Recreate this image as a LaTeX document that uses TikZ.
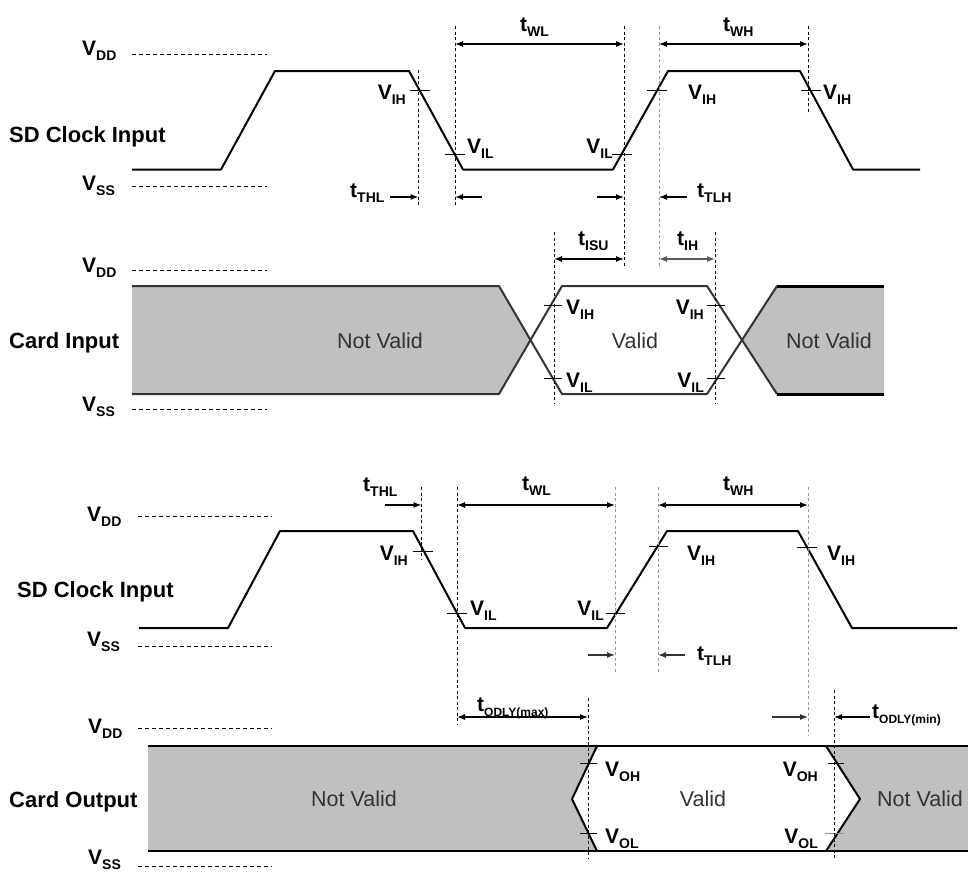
\documentclass[tikz,border=0pt]{standalone}
\usepackage{fontspec}
\setmainfont{Liberation Sans}
\usetikzlibrary{arrows.meta}
\newcommand\sigl[2]{#1\raisebox{-5pt}{\fontsize{14}{14}\selectfont #2}}
\begin{document}
\begin{tikzpicture}[x=1pt,y=-1pt,
  wave/.style={line width=2pt, line join=round},
  guide/.style={line width=0.9pt, dash pattern=on 3pt off 2.5pt},
  gguide/.style={guide, draw=black!40},
  lvl/.style={line width=0.9pt, dash pattern=on 4pt off 3pt},
  tickm/.style={line width=0.9pt},
  dim/.style={line width=1.2pt, {Latex[length=8pt,width=6pt]}-{Latex[length=8pt,width=6pt]}},
  arr/.style={line width=1.2pt, -{Latex[length=8pt,width=6pt]}},
  lab/.style={inner sep=0pt, font=\fontsize{21}{21}\selectfont\bfseries},
  rowname/.style={inner sep=0pt, font=\fontsize{22}{22}\selectfont\bfseries},
  txt/.style={inner sep=0pt, font=\fontsize{21.5}{21.5}\selectfont, text=black!80},
]
\definecolor{band}{RGB}{192,192,192}
\useasboundingbox (0,0) rectangle (968,871);

% ================= Panel 1: SD Clock Input =================
\node[lab, anchor=base west] (p1vdd) at (82,55) {\sigl{V}{DD}};
\node[lab, anchor=base west] (p1vss) at (82,190) {\sigl{V}{SS}};
\node[rowname, anchor=base west] (p1name) at (9,142) {SD Clock Input};
\draw[lvl] (132,54) -- (267,54);
\draw[lvl] (132,186) -- (267,186);
\draw[wave] (132,169.5) -- (221,169.5) -- (275,71) -- (409,71) -- (463,169.5)
  -- (613,169.5) -- (668,71) -- (800,71) -- (853,169.5) -- (920,169.5);
% ticks
\draw[tickm] (410,90.7) -- (430,90.7);
\draw[tickm] (445,154) -- (465,154);
\draw[tickm] (612,154) -- (632,154);
\draw[tickm] (647,90.7) -- (667,90.7);
\draw[tickm] (801,90.7) -- (821,90.7);
% guides
\draw[guide] (418.5,70) -- (418.5,205);
\draw[guide] (455,26) -- (455,205);
\draw[guide] (624,26) -- (624,268);
\draw[gguide] (659,26) -- (659,268);
\draw[guide] (808,26) -- (808,113);
% labels
\node[lab, anchor=base east] (p1vih1) at (406,99) {\sigl{V}{IH}};
\node[lab, anchor=base west] (p1vil1) at (467,153) {\sigl{V}{IL}};
\node[lab, anchor=base east] (p1vil2) at (613,153) {\sigl{V}{IL}};
\node[lab, anchor=base west] (p1vih2) at (688,99) {\sigl{V}{IH}};
\node[lab, anchor=base west] (p1vih3) at (823,99) {\sigl{V}{IH}};
\node[lab, anchor=base west] (p1twl) at (520,31) {\sigl{t}{WL}};
\node[lab, anchor=base west] (p1twh) at (723,31) {\sigl{t}{WH}};
\node[lab, anchor=base west] (p1tthl) at (350,197) {\sigl{t}{THL}};
\node[lab, anchor=base west] (p1ttlh) at (697,197) {\sigl{t}{TLH}};
% dimension arrows
\draw[dim] (455,44) -- (624,44);
\draw[dim] (659,44) -- (808,44);
\draw[arr] (390,197) -- (418.5,197);
\draw[arr] (482,197) -- (455,197);
\draw[arr] (597,197) -- (624,197);
\draw[arr] (687,197) -- (659,197);

% ================= Panel 2: Card Input =================
\node[lab, anchor=base west] (p2vdd) at (82,272) {\sigl{V}{DD}};
\node[lab, anchor=base west] (p2vss) at (82,411) {\sigl{V}{SS}};
\node[rowname, anchor=base west] (p2name) at (9,348) {Card Input};
\draw[lvl] (132,270) -- (267,270);
\draw[lvl] (132,409) -- (267,409);
\fill[band] (132,286) -- (499,286) -- (531,340) -- (499,394) -- (132,394) -- cycle;
\fill[band] (742,340) -- (777,286) -- (884,286) -- (884,394) -- (777,394) -- cycle;
\draw[wave, draw=black!80] (132,286) -- (499,286) -- (562,394) -- (707,394) -- (777,286);
\draw[wave, draw=black!80] (132,394) -- (499,394) -- (562,286) -- (707,286) -- (777,394);
\draw[line width=3pt] (777,286) -- (884,286);
\draw[line width=3pt] (777,394) -- (884,394);
\node[txt] (p2nv1) at (380,341) {Not Valid};
\node[txt] (p2v) at (635,341) {Valid};
\node[txt] (p2nv2) at (829,341) {Not Valid};
% ticks
\draw[tickm] (544,305) -- (562,305);
\draw[tickm] (544,378) -- (562,378);
\draw[tickm] (707,305) -- (725,305);
\draw[tickm] (707,378) -- (725,378);
% guides
\draw[guide] (554,232) -- (554,403);
\draw[guide] (715,232) -- (715,403);
% labels
\node[lab, anchor=base west] (p2vih1) at (566,314) {\sigl{V}{IH}};
\node[lab, anchor=base west] (p2vil1) at (566,387) {\sigl{V}{IL}};
\node[lab, anchor=base east] (p2vih2) at (704,314) {\sigl{V}{IH}};
\node[lab, anchor=base east] (p2vil2) at (704,387) {\sigl{V}{IL}};
\node[lab, anchor=base west] (p2tisu) at (578,245) {\sigl{t}{ISU}};
\node[lab, anchor=base west] (p2tih) at (677,245) {\sigl{t}{IH}};
\draw[dim] (554,259) -- (624,259);
\draw[dim, draw=black!65] (659,259) -- (715,259);

% ================= Panel 3: SD Clock Input =================
\node[lab, anchor=base west] (p3vdd) at (87,521) {\sigl{V}{DD}};
\node[lab, anchor=base west] (p3vss) at (87,646) {\sigl{V}{SS}};
\node[rowname, anchor=base west] (p3name) at (17,597) {SD Clock Input};
\draw[lvl] (138,516) -- (272,516);
\draw[lvl] (138,646) -- (272,646);
\draw[wave] (139,628) -- (228,628) -- (280,531) -- (413,531) -- (465,628)
  -- (607,628) -- (667,531) -- (798,531) -- (852,628) -- (957,628);
% ticks
\draw[tickm] (413,551) -- (433,551);
\draw[tickm] (447,613) -- (467,613);
\draw[tickm] (606,613) -- (625,613);
\draw[tickm] (649,546) -- (668,546);
\draw[tickm] (797,547) -- (817,547);
% guides
\draw[guide] (421.5,487) -- (421.5,560);
\draw[guide] (457,487) -- (457,725);
\draw[gguide] (615,487) -- (615,673);
\draw[gguide] (658,487) -- (658,673);
\draw[gguide] (808,487) -- (808,735);
% labels
\node[lab, anchor=base west] (p3tthl) at (363,491) {\sigl{t}{THL}};
\node[lab, anchor=base west] (p3twl) at (522,490) {\sigl{t}{WL}};
\node[lab, anchor=base west] (p3twh) at (723,490) {\sigl{t}{WH}};
\node[lab, anchor=base east] (p3vih1) at (408,560) {\sigl{V}{IH}};
\node[lab, anchor=base west] (p3vil1) at (470,615) {\sigl{V}{IL}};
\node[lab, anchor=base east] (p3vil2) at (604,615) {\sigl{V}{IL}};
\node[lab, anchor=base west] (p3vih2) at (687,560) {\sigl{V}{IH}};
\node[lab, anchor=base west] (p3vih3) at (827,560) {\sigl{V}{IH}};
\node[lab, anchor=base west] (p3ttlh) at (697,660) {\sigl{t}{TLH}};
\draw[arr] (385,505) -- (421.5,505);
\draw[dim] (457,505) -- (615,505);
\draw[dim] (658,505) -- (808,505);
\draw[arr, draw=black!80] (588,655) -- (615,655);
\draw[arr, draw=black!80] (685,655) -- (658,655);

% ================= Panel 4: Card Output =================
\node[lab, anchor=base west] (p4vdd) at (88,733) {\sigl{V}{DD}};
\node[lab, anchor=base west] (p4vss) at (88,864) {\sigl{V}{SS}};
\node[rowname, anchor=base west] (p4name) at (9,807) {Card Output};
\draw[lvl] (138,728) -- (272,728);
\draw[lvl] (138,866) -- (272,866);
\fill[band] (148,746) -- (597,746) -- (572,799) -- (597,851) -- (148,851) -- cycle;
\fill[band] (826,746) -- (970,746) -- (970,851) -- (826,851) -- (860,799) -- cycle;
\draw[wave] (148,746) -- (970,746);
\draw[wave] (148,851) -- (970,851);
\draw[wave] (597,746) -- (572,799) -- (597,851);
\draw[wave] (826,746) -- (860,799) -- (826,851);
\node[txt] (p4nv1) at (354,799) {Not Valid};
\node[txt] (p4v) at (703,799) {Valid};
\node[txt, anchor=west] (p4nv2) at (877,799) {Not Valid};
% ticks
\draw[tickm] (580,763) -- (597,763);
\draw[tickm] (580,833) -- (597,833);
\draw[tickm] (828,763) -- (844,763);
\draw[tickm, draw=black!45] (825,833) -- (844,833);
% guides
\draw[guide] (588,698) -- (588,858);
\draw[guide] (834,690) -- (834,860);
% labels
\node[lab, anchor=base west] (p4tmax) at (477,711) {t\raisebox{-5pt}{\fontsize{12}{12}\selectfont ODLY(max)}};
\node[lab, anchor=base west] (p4tmin) at (872,718) {t\raisebox{-5pt}{\fontsize{12}{12}\selectfont ODLY(min)}};
\node[lab, anchor=base west] (p4voh1) at (605,776) {\sigl{V}{OH}};
\node[lab, anchor=base west] (p4vol1) at (605,843) {\sigl{V}{OL}};
\node[lab, anchor=base east] (p4voh2) at (818,776) {\sigl{V}{OH}};
\node[lab, anchor=base east] (p4vol2) at (818,843) {\sigl{V}{OL}};
\draw[dim] (457,717) -- (588,717);
\draw[arr, draw=black!80] (772,717) -- (808,717);
\draw[arr] (870,717) -- (834,717);
\end{tikzpicture}
\end{document}
